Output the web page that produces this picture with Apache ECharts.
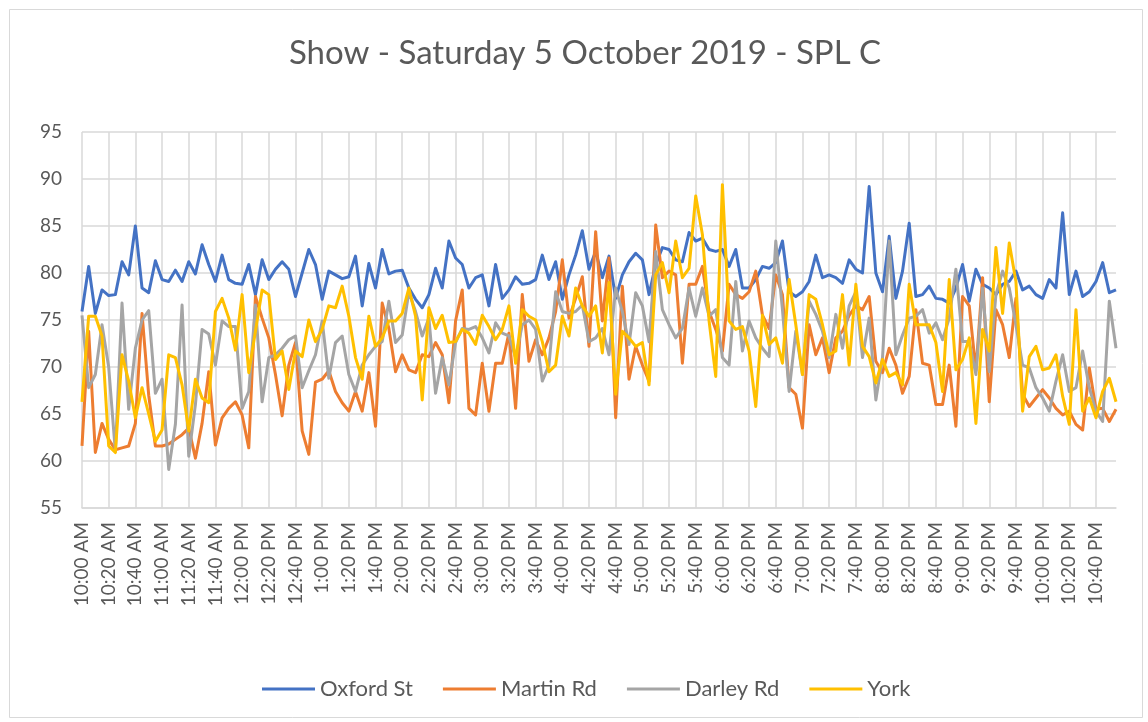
<!DOCTYPE html>
<html>
<head>
<meta charset="utf-8">
<script src="https://cdn.jsdelivr.net/npm/echarts@6/dist/echarts.min.js"></script>
<style>
html,body{margin:0;padding:0;background:#fff;overflow:hidden;width:1148px;height:722px;}
#chart{width:1148px;height:722px;}
</style>
</head>
<body>
<div id="chart"></div>
<script>
// Categories: 5-minute readings from 10:00 AM to 10:55 PM
const startMinutes = 10 * 60;
const stepMinutes = 5;
const pointCount = 156;
const labelEvery = 4;
function timeLabel(totalMin) {
  const h = Math.floor(totalMin / 60), m = totalMin % 60;
  const h12 = ((h + 11) % 12) + 1;
  return h12 + ':' + (m < 10 ? '0' : '') + m + (h < 12 ? ' AM' : ' PM');
}
const categories = [];
for (let i = 0; i < pointCount; i++) categories.push(timeLabel(startMinutes + i * stepMinutes));

const seriesNames = ['Oxford St', 'Martin Rd', 'Darley Rd', 'York'];

const oxfordSt = [
75.9,80.7,75.7,78.2,77.6,77.7,81.2,79.8,85.0,78.4,77.9,81.3,79.3,79.1,80.3,79.1,81.2,79.9,83.0,80.9,
79.1,81.9,79.3,78.9,78.8,80.9,77.7,81.4,79.3,80.4,81.2,80.4,77.5,80.0,82.5,80.9,77.2,80.2,79.8,79.4,
79.6,81.8,76.5,81.0,78.4,82.5,79.9,80.2,80.3,78.4,77.2,76.3,77.7,80.5,78.4,83.4,81.6,80.9,78.4,79.5,
79.8,76.5,80.9,77.3,78.2,79.6,78.8,78.9,79.3,81.9,79.3,81.2,77.2,79.8,81.9,84.5,80.4,82.3,79.5,81.8,
77.3,79.8,81.2,82.1,81.4,77.7,80.9,82.7,82.5,81.4,81.2,84.3,83.4,83.7,82.5,82.3,82.5,80.7,82.5,78.4,
78.4,79.3,80.7,80.5,81.1,83.4,78.0,77.5,78.0,79.1,81.9,79.5,79.8,79.5,78.9,81.4,80.4,80.0,89.2,80.0,
78.0,83.9,77.3,80.2,85.3,77.5,77.7,78.6,77.3,77.2,76.8,78.4,80.9,77.0,80.4,78.8,78.4,77.7,78.8,79.1,
80.2,78.2,78.6,77.7,77.3,79.3,78.4,86.4,77.7,80.2,77.5,78.0,79.1,81.1,77.9,78.2
];
const martinRd = [
61.6,73.8,60.9,64.0,62.3,61.2,61.4,61.6,64.0,75.7,67.0,61.6,61.6,61.8,62.3,62.8,63.5,60.3,64.0,69.5,
61.7,64.6,65.6,66.3,64.9,61.4,77.5,75.2,73.1,69.2,64.8,70.2,72.6,63.2,60.7,68.4,68.7,69.6,67.4,66.2,
65.3,67.4,65.3,69.4,63.7,76.8,74.1,69.5,71.3,69.7,69.4,71.3,71.1,72.6,71.3,66.2,74.9,78.2,65.6,64.9,
70.4,65.3,70.4,70.4,73.6,65.6,77.7,70.6,72.9,71.3,73.1,75.9,81.4,75.2,77.3,79.6,72.2,84.4,74.9,81.6,
64.6,78.6,68.7,72.2,70.2,68.5,85.1,79.5,80.2,79.8,70.4,78.8,78.8,80.7,75.9,74.0,71.7,78.8,77.7,77.3,
78.0,80.2,75.5,74.1,79.8,77.7,67.8,67.1,63.5,74.5,71.3,73.1,69.4,73.1,73.8,75.5,76.5,76.1,77.5,70.6,
69.4,72.0,70.2,67.2,69.0,76.1,70.4,70.2,66.0,66.0,70.2,63.7,77.5,76.5,69.6,79.5,66.3,76.1,74.5,71.0,
77.3,67.1,65.8,66.7,67.6,66.7,65.6,64.9,65.3,63.9,63.3,69.9,65.5,65.6,64.2,65.5
];
const darleyRd = [
75.5,67.8,69.2,74.5,70.0,61.0,76.8,65.5,72.0,75.0,76.0,67.2,68.7,59.1,63.9,76.6,60.5,66.0,74.0,73.5,
70.2,74.9,74.3,74.3,65.6,67.4,76.6,66.3,71.0,71.3,72.0,72.9,73.3,67.8,69.6,71.3,74.9,68.8,72.6,73.3,
69.2,67.4,70.2,71.3,72.2,72.7,77.0,72.6,73.4,78.0,75.9,73.3,75.2,67.2,71.0,68.1,72.6,74.1,74.0,74.3,
73.1,71.5,74.7,73.6,73.3,71.0,74.5,75.0,74.0,68.5,70.2,78.0,75.9,75.7,75.9,76.6,72.7,73.1,74.1,71.3,
78.4,75.9,72.4,77.9,76.5,72.7,82.3,76.1,74.5,73.1,74.1,78.4,75.4,78.4,75.4,76.1,71.0,70.2,79.1,71.7,
74.9,73.1,72.0,71.1,83.4,76.1,67.4,73.8,69.2,77.0,75.6,73.8,71.0,75.6,72.0,76.5,78.0,71.0,75.2,66.5,
71.0,83.4,71.3,73.4,75.2,75.4,76.1,73.6,74.7,72.9,75.2,80.4,72.7,72.7,69.2,78.4,69.5,77.7,80.2,78.4,
74.5,70.2,69.9,67.8,66.7,65.3,68.5,71.3,67.4,67.8,71.7,67.8,65.3,64.2,77.0,72.0
];
const york = [
66.3,75.4,75.4,73.3,61.6,60.9,71.3,68.5,64.6,67.8,65.0,62.1,63.3,71.3,71.0,68.1,63.2,68.7,66.7,66.2,
75.9,77.3,75.2,71.8,77.7,69.4,73.8,78.2,77.7,70.8,71.7,67.6,71.7,71.1,75.0,72.7,74.0,76.5,76.3,78.6,
75.4,71.0,68.7,75.4,72.2,73.1,74.9,74.9,75.7,78.4,75.4,66.5,76.3,74.1,75.5,72.6,72.7,74.0,73.6,72.4,
75.5,74.3,72.9,74.0,76.5,70.4,76.1,75.4,75.0,72.7,69.5,70.2,75.4,73.3,78.4,76.5,75.4,76.5,71.5,79.0,
67.1,73.8,73.1,72.2,72.6,68.1,79.8,81.1,77.9,83.4,79.5,80.5,88.2,84.1,74.9,69.0,89.4,74.9,74.0,74.3,
71.7,65.8,75.5,72.4,73.1,70.4,79.3,74.5,69.2,77.7,77.2,74.5,71.3,71.7,77.7,70.2,78.8,72.2,71.1,68.3,
70.8,69.0,69.4,68.1,78.8,74.5,74.5,74.5,72.6,67.4,79.3,69.7,70.8,73.1,64.0,74.0,71.7,82.7,75.7,83.2,
79.1,65.3,71.1,72.2,69.7,69.9,71.3,66.9,63.9,76.1,65.3,66.7,64.6,67.4,68.8,66.3
];
const seriesValues = [oxfordSt, martinRd, darleyRd, york];
const seriesColors = ['#4472C4', '#ED7D31', '#A5A5A5', '#FFC000'];

const yMin = 55, yMax = 95, yStep = 5;

const FONT = 'Lato, "Open Sans", sans-serif';
const TEXT = '#595959';
const GRID = '#d9d9d9';
const LABEL_SIZE = 19;
const LABEL_MARGIN = 14;

const chart = echarts.init(document.getElementById('chart'), null, {renderer: 'canvas'});
chart.setOption({
  animation: false,
  backgroundColor: '#ffffff',
  graphic: [{
    id: 'border', type: 'rect', left: 7, top: 7, z: -1,
    shape: {width: 1133, height: 708},
    style: {fill: 'none', stroke: '#d9d9d9', lineWidth: 1}
  }],
  title: {
    text: 'Show - Saturday 5 October 2019 - SPL C',
    left: 580, textAlign: 'center', top: 32,
    textStyle: {fontFamily: FONT, fontSize: 33, fontWeight: 'normal', color: TEXT}
  },
  legend: {
    bottom: 17, left: 257,
    icon: 'rect', itemWidth: 53, itemHeight: 3, itemGap: 30,
    data: seriesNames,
    textStyle: {fontFamily: FONT, fontSize: 22, color: TEXT}
  },
  grid: {left: 82, right: 32, top: 132, bottom: 214, containLabel: false},
  xAxis: {
    type: 'category', boundaryGap: false, data: categories,
    axisLine: {show: true, lineStyle: {color: GRID, width: 1.5}},
    axisTick: {show: false},
    axisLabel: {show: false},
    splitLine: {show: true, interval: labelEvery - 1, lineStyle: {color: GRID, width: 1.5}}
  },
  yAxis: {
    type: 'value', min: yMin, max: yMax, interval: yStep,
    axisLine: {show: false}, axisTick: {show: false},
    axisLabel: {margin: 20, fontFamily: FONT, fontSize: 19, color: TEXT},
    splitLine: {show: true, lineStyle: {color: GRID, width: 1.5}}
  },
  series: seriesNames.map((name, k) => ({
    name: name, type: 'line', data: seriesValues[k],
    showSymbol: false, symbol: 'none', smooth: false,
    lineStyle: {color: seriesColors[k], width: 3, join: 'round'},
    itemStyle: {color: seriesColors[k]},
    z: 2 + k
  }))
});

// Rotated category labels (every 4th category), positioned by the axis scale.
// Each label is measured and anchored at its lower end, so it reads upwards and ends at the axis.
const measureCtx = document.createElement('canvas').getContext('2d');
measureCtx.font = LABEL_SIZE + 'px ' + FONT;
const axisY = chart.convertToPixel({yAxisIndex: 0}, yMin);
const labelGraphics = [];
for (let i = 0; i < pointCount; i += labelEvery) {
  const x = chart.convertToPixel({xAxisIndex: 0}, i);
  const w = measureCtx.measureText(categories[i]).width;
  labelGraphics.push({
    id: 'xl' + i, type: 'text', x: x, y: axisY + LABEL_MARGIN + w, rotation: Math.PI / 2,
    silent: true,
    style: {text: categories[i], align: 'left', verticalAlign: 'middle',
            fontFamily: FONT, fontSize: LABEL_SIZE, fill: TEXT}
  });
}
chart.setOption({graphic: labelGraphics});
</script>
</body>
</html>
